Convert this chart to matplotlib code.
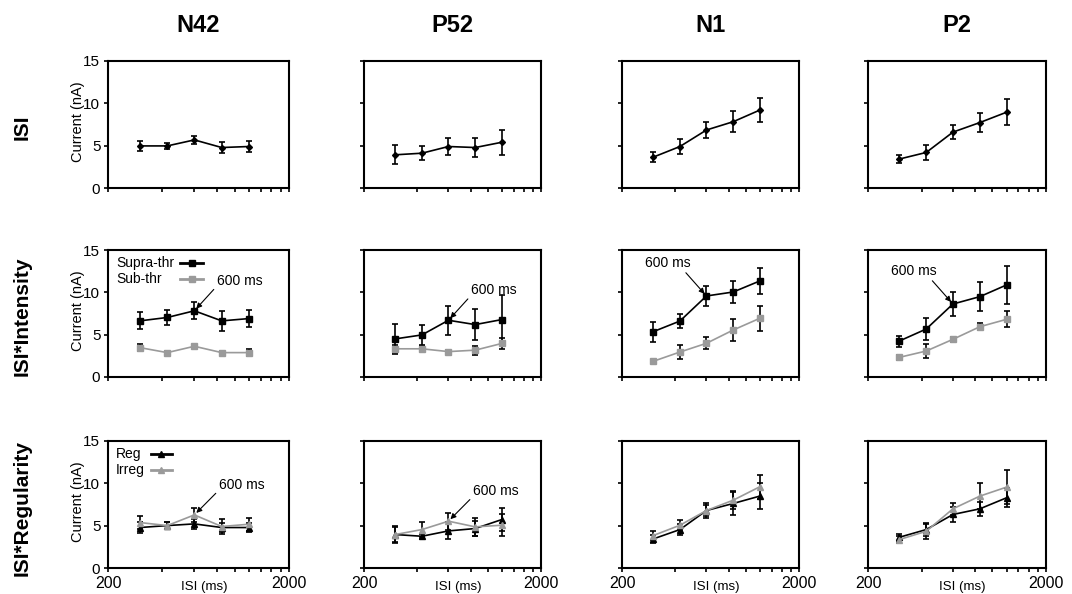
import matplotlib
matplotlib.use('Agg')
import matplotlib.pyplot as plt
from matplotlib.ticker import FixedLocator, NullLocator

plt.rcParams['font.family'] = ['Liberation Sans', 'DejaVu Sans']

# inter-stimulus intervals (ms), same for every panel
ISI = [300, 425, 600, 850, 1200]
COLUMNS = ['N42', 'P52', 'N1', 'P2']
ROWS = ['ISI', 'ISI*Intensity', 'ISI*Regularity']

# row 1: ISI only (one list per column)
isi_mean = [[4.97, 4.97, 5.68, 4.78, 4.90],
            [3.92, 4.11, 4.90, 4.78, 5.40],
            [3.64, 4.90, 6.85, 7.83, 9.20],
            [3.42, 4.20, 6.60, 7.73, 8.95]]
isi_err = [[0.60, 0.35, 0.50, 0.65, 0.60],
           [1.10, 0.80, 0.95, 1.10, 1.50],
           [0.60, 0.85, 0.90, 1.25, 1.45],
           [0.50, 0.90, 0.80, 1.10, 1.55]]

# row 2: ISI * intensity
supra_mean = [[6.63, 7.03, 7.82, 6.63, 6.90],
              [4.50, 4.97, 6.70, 6.19, 6.78],
              [5.35, 6.61, 9.57, 10.04, 11.34],
              [4.25, 5.67, 8.62, 9.49, 10.87]]
supra_err = [[1.00, 0.85, 1.00, 1.20, 1.00],
             [1.75, 1.15, 1.70, 1.80, 2.85],
             [1.20, 0.85, 1.20, 1.25, 1.50],
             [0.65, 1.30, 1.45, 1.75, 2.25]]
sub_mean = [[3.47, 2.88, 3.63, 2.88, 2.88],
            [3.33, 3.33, 3.00, 3.17, 3.96],
            [1.85, 2.95, 3.98, 5.55, 6.93],
            [2.32, 3.07, 4.45, 5.94, 6.81]]
sub_err = [[0.40, 0.15, 0.20, 0.15, 0.40],
           [0.50, 0.30, 0.15, 0.55, 0.60],
           [0.00, 0.80, 0.70, 1.35, 1.45],
           [0.30, 0.80, 0.30, 0.40, 0.95]]

# row 3: ISI * regularity
reg_mean = [[4.78, 5.01, 5.21, 4.78, 4.78],
            [3.95, 3.75, 4.38, 4.66, 5.72],
            [3.43, 4.54, 6.79, 7.62, 8.49],
            [3.63, 4.54, 6.32, 6.99, 8.29]]
reg_err = [[0.60, 0.40, 0.60, 0.50, 0.50],
           [1.00, 0.30, 1.00, 0.90, 1.40],
           [0.50, 0.60, 0.90, 1.40, 1.50],
           [0.40, 0.80, 0.90, 0.80, 1.10]]
irreg_mean = [[5.37, 5.01, 6.27, 4.90, 5.17],
              [3.95, 4.54, 5.53, 4.86, 5.05],
              [3.83, 5.05, 6.79, 8.01, 9.59],
              [3.36, 4.34, 6.99, 8.49, 9.55]]
irreg_err = [[0.80, 0.40, 0.80, 0.85, 0.75],
             [0.90, 0.90, 1.00, 1.10, 1.30],
             [0.50, 0.60, 0.60, 1.10, 1.40],
             [0.40, 0.90, 0.70, 1.50, 2.00]]

GREY = '#9a9a9a'
W, H = 1072, 594

# panel placement in pixels
LEFTS = [108, 364, 622, 868]
WIDTHS = [181, 177, 177, 178]
BOTTOMS = [188, 377, 568]
PANEL_H = 127

fig = plt.figure(figsize=(W / 100, H / 100), dpi=100)


def makeAxis(row, col):
    ax = fig.add_axes([LEFTS[col] / W, 1 - BOTTOMS[row] / H, WIDTHS[col] / W, PANEL_H / H])
    ax.set_xscale('log')
    ax.set_xlim(200, 2000)
    ax.set_ylim(0, 15)
    ax.xaxis.set_major_locator(FixedLocator(list(range(200, 2001, 200))))
    ax.xaxis.set_minor_locator(NullLocator())
    ax.set_yticks([0, 5, 10, 15])
    for s in ax.spines.values():
        s.set_linewidth(1.5)
    ax.tick_params(direction='out', length=3, width=1.2, labelsize=11, pad=2.5)
    if row == 2:
        labels = [''] * 10
        labels[0], labels[-1] = '200', '2000'
        ax.set_xticklabels(labels, fontsize=11.5)
        ax.text(0.53, -0.15, 'ISI (ms)', transform=ax.transAxes, ha='center', va='center', fontsize=9.5)
    else:
        ax.set_xticklabels([])
    if col == 0:
        ax.set_ylabel('Current (nA)', fontsize=10.5)
        ax.yaxis.set_label_coords(-0.125, 0.52)
    else:
        ax.set_yticklabels([])
    return ax


def series(ax, mean, err, marker, color, ms):
    ax.errorbar(ISI, mean, yerr=err, color=color, ecolor='black', marker=marker, markersize=ms,
                lw=1.2, elinewidth=1.2, capsize=2.2, capthick=1.2)


def mark600(ax, y, dx, dy, relpos):
    ax.annotate('600 ms', xy=(ISI[2], y), xytext=(dx, dy), textcoords='offset pixels',
                ha='center', va='center', fontsize=10,
                arrowprops=dict(arrowstyle='-|>', color='black', lw=0.8, mutation_scale=8,
                                shrinkA=0, shrinkB=2, relpos=relpos))


def fakeLegend(ax, labels, colors, marker, x0, x1):
    # text left, line sample to the right, like the original figure
    for lab, c, y in zip(labels, colors, [0.90, 0.775]):
        ax.text(0.045, y, lab, transform=ax.transAxes, ha='left', va='center', fontsize=10)
        ax.plot([x0, x1], [y, y], transform=ax.transAxes, color=c, lw=2)
        ax.plot([(x0 + x1) / 2], [y], transform=ax.transAxes, color=c, marker=marker, ms=4)


for c in range(4):
    ax = makeAxis(0, c)
    series(ax, isi_mean[c], isi_err[c], 'D', 'black', 3)

    ax = makeAxis(1, c)
    series(ax, supra_mean[c], supra_err[c], 's', 'black', 4)
    series(ax, sub_mean[c], sub_err[c], 's', GREY, 4)
    if c < 2:
        mark600(ax, supra_mean[c][2], 45, 30, (0.0, 0.1))
    else:
        mark600(ax, supra_mean[c][2], -39, 33, (0.85, 0.0))
    if c == 0:
        fakeLegend(ax, ['Supra-thr', 'Sub-thr'], ['black', GREY], 's', 0.40, 0.525)

    ax = makeAxis(2, c)
    series(ax, reg_mean[c], reg_err[c], '^', 'black', 4)
    series(ax, irreg_mean[c], irreg_err[c], '^', GREY, 4)
    if c < 2:
        mark600(ax, irreg_mean[c][2], 47, 30, (0.0, 0.1))
    if c == 0:
        fakeLegend(ax, ['Reg', 'Irreg'], ['black', GREY], '^', 0.235, 0.355)

    # column titles
    fig.text((LEFTS[c] + WIDTHS[c] / 2) / W, 1 - 25 / H, COLUMNS[c],
             ha='center', va='center', fontsize=17, fontweight='bold')

# row titles
for r, lab in enumerate(ROWS):
    yc = BOTTOMS[r] - PANEL_H / 2 + 3
    fig.text(22 / W, 1 - yc / H, lab, rotation=90, ha='center', va='center',
             fontsize=15, fontweight='bold')

fig.savefig('out.png', dpi=100)
